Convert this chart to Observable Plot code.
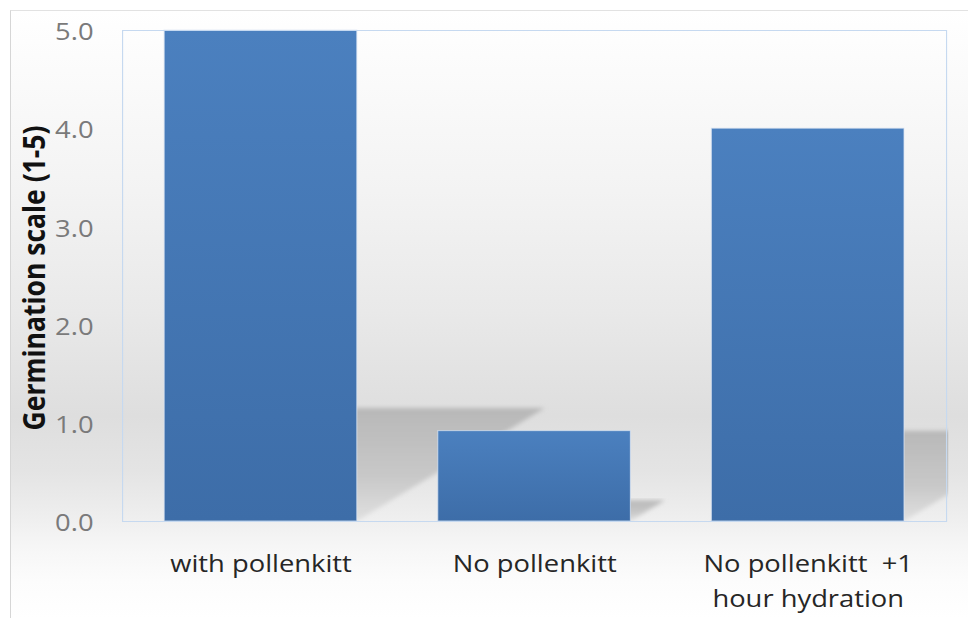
<!DOCTYPE html>
<html>
<head>
<meta charset="utf-8">
<script src="https://cdn.jsdelivr.net/npm/d3@7"></script>
<script src="https://cdn.jsdelivr.net/npm/@observablehq/plot@0.6"></script>
<style>
  html, body { margin: 0; padding: 0; background: #fff; }
  #chart {
    position: relative;
    width: 968px;
    height: 618px;
    overflow: hidden;
  }
  #panel {
    position: absolute;
    left: 10px;
    top: 10px;
    width: 980px;
    height: 640px;
    border-left: 1px solid #d6d6d6;
    border-top: 1px solid #e2e2e2;
    background: linear-gradient(to bottom,
      #ffffff 0px, #fbfbfb 60px, #f3f3f3 180px, #e9e9e9 300px,
      #dedede 405px, #e4e4e4 460px, #eeeeee 505px, #f6f6f6 535px,
      #fcfcfc 570px, #ffffff 608px);
  }
  #chart svg {
    position: absolute; left: 0; top: 0;
    transform-origin: 0 0;
  }
</style>
</head>
<body>
<div id="chart"><div id="panel"></div></div>
<script>
// Germination of pollen with and without pollenkitt
const categories = ["with pollenkitt", "No pollenkitt", "No pollenkitt +1 hour hydration"];
const scores = [5.0, 0.92, 4.0];
const categoryLabels = ["with pollenkitt", "No pollenkitt", "No pollenkitt  +1\nhour hydration"];
const yTicks = [0, 1, 2, 3, 4, 5];
const yTitle = "Germination scale (1-5)";

const rows = categories.map((c, i) => ({category: c, score: scores[i]}));

const font = "Open Sans, Lato, sans-serif";
// the chart is laid out narrower and widened horizontally, giving the wide lettering
const widen = 1.14;
const W = 968 / widen;

// gradients and filters used by the bars and their cast shadows
function defsMark() {
  const defs = d3.create("svg:defs");
  const bar = defs.append("linearGradient").attr("id", "barFill")
    .attr("x1", 0).attr("y1", 0).attr("x2", 0).attr("y2", 1);
  bar.append("stop").attr("offset", "0%").attr("stop-color", "#4b80bf");
  bar.append("stop").attr("offset", "100%").attr("stop-color", "#3d6da8");
  const sh = defs.append("linearGradient").attr("id", "shadowFill")
    .attr("x1", 0).attr("y1", 0).attr("x2", 0).attr("y2", 1);
  sh.append("stop").attr("offset", "0%").attr("stop-color", "#b8b8b8");
  sh.append("stop").attr("offset", "60%").attr("stop-color", "#c8c8c8");
  sh.append("stop").attr("offset", "100%").attr("stop-color", "#e0e0e0");
  const blur = defs.append("filter").attr("id", "shadowBlur")
    .attr("x", "-10%").attr("y", "-10%").attr("width", "120%").attr("height", "120%");
  blur.append("feGaussianBlur").attr("stdDeviation", 2);
  return defs.node();
}

// oblique floor shadow cast by each bar, projected back and to the right
const shadowRise = 0.23;   // fraction of bar height the shadow reaches
const shadowSlant = 0.383 / widen; // horizontal shift per pixel of bar height
function shadowMark(index, scales, values, dims) {
  const {x, y} = scales;
  const bw = x.bandwidth();
  const y0 = y(0);
  const clipId = "plotClip";
  const g = d3.create("svg:g");
  g.append("clipPath").attr("id", clipId).append("rect")
    .attr("x", dims.marginLeft).attr("y", dims.marginTop)
    .attr("width", dims.width - dims.marginLeft - dims.marginRight + 2)
    .attr("height", dims.height - dims.marginTop - dims.marginBottom);
  const inner = g.append("g").attr("clip-path", `url(#${clipId})`);
  rows.forEach(d => {
    const x0 = x(d.category), x1 = x0 + bw;
    const h = y0 - y(d.score);
    const dx = h * shadowSlant;
    const top = y0 - h * shadowRise;
    inner.append("polygon")
      .attr("points", [[x0, y0], [x1, y0], [x1 + dx, top], [x0 + dx, top]].map(p => p.join(",")).join(" "))
      .attr("fill", "url(#shadowFill)")
      .attr("filter", "url(#shadowBlur)");
  });
  return g.node();
}

const plot = Plot.plot({
  width: W,
  height: 618,
  marginTop: 30,
  marginBottom: 97,
  marginLeft: 122 / widen,
  marginRight: 22 / widen,
  style: {background: "transparent", fontFamily: font, overflow: "visible"},
  x: {domain: categories, paddingInner: 0.295, paddingOuter: 0.1475, axis: null},
  y: {domain: [0, 5], axis: null},
  marks: [
    defsMark,
    shadowMark,
    Plot.barY(rows, {
      x: "category", y: "score",
      fill: "url(#barFill)",
      stroke: "#dbe6f4", strokeWidth: 1, strokeOpacity: 0.7
    }),
    Plot.frame({stroke: "#c6d9f0", strokeWidth: 1}),
    Plot.axisY(yTicks, {
      tickSize: 0, tickPadding: 29 / widen,
      tickFormat: d => d.toFixed(1),
      fontSize: 24, fill: "#7a7a7a", label: null, dy: 2
    }),
    Plot.axisX({
      tickSize: 0, tickPadding: 26,
      tickFormat: d => categoryLabels[categories.indexOf(d)],
      fontSize: 24, lineHeight: 1.46, fill: "#262626", label: null
    }),
    Plot.text([yTitle], {
      frameAnchor: "left", textAnchor: "middle", dx: -87 / widen, dy: 2, rotate: -90,
      fontSize: 26.5, fontWeight: "bold", fill: "#111"
    })
  ]
});

plot.style.transform = `scaleX(${widen})`;
document.getElementById("chart").appendChild(plot);
</script>
</body>
</html>
